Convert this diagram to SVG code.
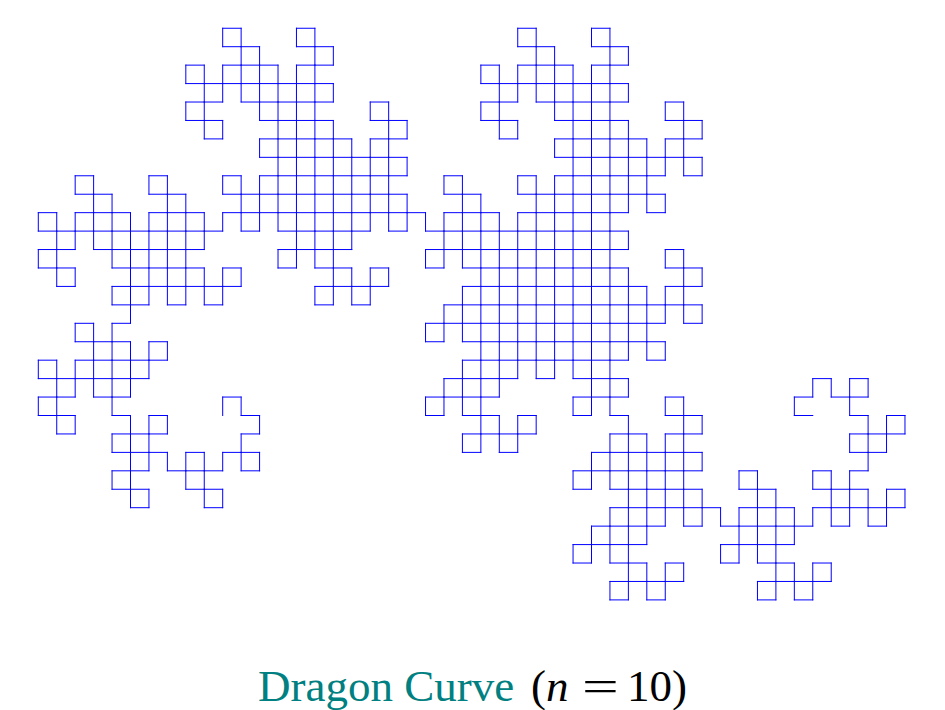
<svg xmlns="http://www.w3.org/2000/svg" xmlns:xlink="http://www.w3.org/1999/xlink" width="945" height="710" viewBox="0 0 945 710">
<style>
.seg{stroke:#0000ff;stroke-width:1;stroke-linecap:square;fill:none}
.cap{font-family:"Liberation Serif","Times New Roman",Times,"DejaVu Serif","Noto Serif",Tinos,"Nimbus Roman","FreeSerif",serif;font-size:45px}
</style>
<defs>
<line id="d0" class="seg" x1="0" y1="0" x2="18.44" y2="0"/>
<g id="d1"><use href="#d0"/><use href="#d0" transform="rotate(-90 18.44 0)"/></g>
<g id="d2"><use href="#d1"/><use href="#d1" transform="rotate(-90 18.44 18.44)"/></g>
<g id="d3"><use href="#d2"/><use href="#d2" transform="rotate(-90 0 36.88)"/></g>
<g id="d4"><use href="#d3"/><use href="#d3" transform="rotate(-90 -36.88 36.88)"/></g>
<g id="d5"><use href="#d4"/><use href="#d4" transform="rotate(-90 -73.76 0)"/></g>
<g id="d6"><use href="#d5"/><use href="#d5" transform="rotate(-90 -73.76 -73.76)"/></g>
<g id="d7"><use href="#d6"/><use href="#d6" transform="rotate(-90 0 -147.52)"/></g>
<g id="d8"><use href="#d7"/><use href="#d7" transform="rotate(-90 147.52 -147.52)"/></g>
<g id="d9"><use href="#d8"/><use href="#d8" transform="rotate(-90 295.04 0)"/></g>
<g id="d10"><use href="#d9"/><use href="#d9" transform="rotate(-90 295.04 295.04)"/></g>
</defs>
<rect width="945" height="710" fill="#ffffff"/>
<g id="dragon-curve">
<use href="#d10" transform="translate(222.7 415.5) rotate(-90)"/>
</g>
<g id="caption" class="cap">
<text x="258" y="701" fill="#008080">Dragon Curve</text>
<text x="531" y="701" fill="#000000">(</text>
<text x="546" y="701" fill="#000000" font-style="italic">n</text>
<text transform="translate(582 701) scale(1.45 1)" fill="#000000">=</text>
<text x="627" y="701" fill="#000000">10</text>
<text x="672" y="701" fill="#000000">)</text>
</g>
</svg>
